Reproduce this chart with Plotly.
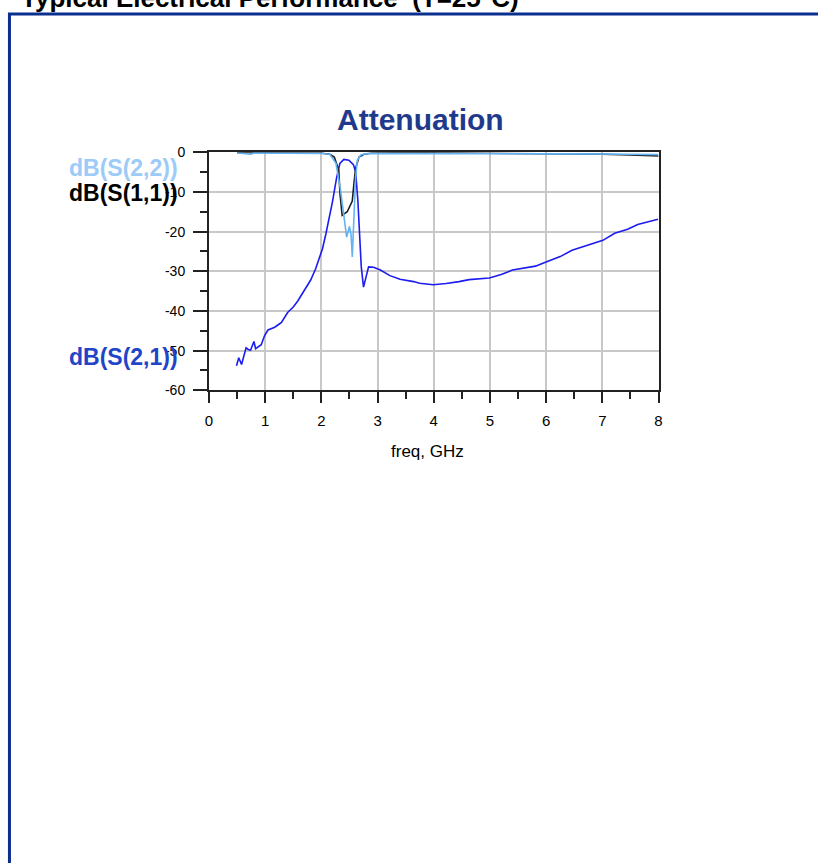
import plotly.graph_objects as go

W, H = 818, 863

# ---- data ----
freq_s21 = [0.49, 0.53, 0.58, 0.61, 0.66, 0.70, 0.74, 0.80, 0.83, 0.93, 0.99, 1.05, 1.17, 1.22, 1.29,
            1.40, 1.50, 1.58, 1.70, 1.81, 1.90, 1.96, 2.02, 2.08, 2.14, 2.20, 2.27, 2.33, 2.40,
            2.49, 2.57, 2.61, 2.65, 2.68, 2.71, 2.75, 2.78, 2.84, 2.93, 3.05, 3.22, 3.40,
            3.64, 3.75, 3.99, 4.22, 4.45, 4.63, 4.99, 5.20, 5.40, 5.60, 5.81, 6.01, 6.25, 6.46,
            6.81, 7.01, 7.22, 7.45, 7.63, 7.99]
s21_db = [-53.8, -51.8, -53.5, -51.6, -49.3, -49.7, -49.9, -47.7, -49.5, -48.5, -46.2, -44.8, -44.1, -43.6, -42.9,
          -40.4, -39.0, -37.5, -34.6, -32.2, -29.3, -26.8, -24.3, -20.6, -16.5, -12.3, -6.5, -2.8, -1.8,
          -2.0, -3.1, -4.9, -12.3, -20.6, -28.9, -34.0, -32.2, -28.9, -29.0, -29.7, -31.1, -32.0,
          -32.6, -33.0, -33.4, -33.1, -32.6, -32.1, -31.7, -30.8, -29.7, -29.2, -28.7, -27.6, -26.3, -24.7,
          -23.1, -22.2, -20.4, -19.4, -18.2, -16.9]

freq_s11 = [0.5, 1.0, 1.5, 2.0, 2.05, 2.15, 2.23, 2.31, 2.33, 2.37, 2.46, 2.55, 2.58, 2.61,
            2.67, 2.76, 2.90, 3.5, 4.5, 5.5, 6.5, 7.0, 7.5, 8.0]
s11_db = [-0.1, -0.1, -0.1, -0.2, -0.3, -0.5, -1.2, -4.5, -10.2, -15.9, -15.0, -12.3, -7.8, -4.0,
          -1.2, -0.5, -0.2, -0.1, -0.2, -0.3, -0.4, -0.5, -0.7, -0.9]

freq_s22 = [0.5, 0.75, 0.8, 1.5, 2.0, 2.15, 2.26, 2.34, 2.40, 2.45, 2.50, 2.53, 2.55, 2.58,
            2.61, 2.64, 2.70, 2.81, 3.5, 4.5, 5.5, 6.5, 7.5, 8.0]
s22_db = [-0.2, -0.5, -0.2, -0.2, -0.3, -0.5, -2.8, -9.4, -16.0, -21.4, -18.7, -21.0, -26.4, -15.2,
          -6.1, -2.0, -0.7, -0.3, -0.3, -0.4, -0.3, -0.4, -0.5, -0.6]

x_ticks = [0, 1, 2, 3, 4, 5, 6, 7, 8]
x_tick_labels = ["0", "1", "2", "3", "4", "5", "6", "7", "8"]
y_ticks = [0, -10, -20, -30, -40, -50, -60]
y_tick_labels = ["0", "-10", "-20", "-30", "-40", "-50", "-60"]

# ---- figure ----
fig = go.Figure()
fig.add_trace(go.Scatter(x=freq_s21, y=s21_db, mode="lines", name="dB(S(2,1))",
                         line=dict(color="#1c1cf0", width=1.6)))
fig.add_trace(go.Scatter(x=freq_s11, y=s11_db, mode="lines", name="dB(S(1,1))",
                         line=dict(color="#1e1e1e", width=1.6)))
fig.add_trace(go.Scatter(x=freq_s22, y=s22_db, mode="lines", name="dB(S(2,2))",
                         line=dict(color="#62b4f4", width=1.6)))

x0, x1 = 207 / W, 661 / W
y0, y1 = 1 - 389.5 / H, 1 - 147 / H

fig.update_layout(
    width=W, height=H, margin=dict(l=0, r=0, t=0, b=0),
    paper_bgcolor="white", plot_bgcolor="white", showlegend=False,
    font=dict(family="Arial, Liberation Sans, sans-serif", color="black"),
    xaxis=dict(domain=[x0, x1], range=[0, 8], tickvals=x_ticks, ticktext=x_tick_labels,
               ticks="outside", ticklen=11, tickwidth=2, tickcolor="#222",
               ticklabelstandoff=5,
               showline=True, linecolor="#222", linewidth=2, mirror=True,
               showgrid=True, gridcolor="#c8c8c8", gridwidth=2, zeroline=False,
               tickfont=dict(size=15),
               minor=dict(dtick=0.5, ticks="outside", ticklen=7, tickwidth=2, tickcolor="#222", showgrid=False)),
    yaxis=dict(domain=[y0, y1], range=[-60, 0], tickvals=y_ticks, ticktext=y_tick_labels,
               ticks="outside", ticklen=14, tickwidth=2, tickcolor="#222",
               ticklabelstandoff=5,
               showline=True, linecolor="#222", linewidth=2, mirror=True,
               showgrid=True, gridcolor="#c8c8c8", gridwidth=2, zeroline=False,
               tickfont=dict(size=14),
               minor=dict(dtick=5, ticks="outside", ticklen=7, tickwidth=2, tickcolor="#222", showgrid=False)),
)

# page frame (dark blue border)
fig.add_shape(type="rect", xref="paper", yref="paper",
              x0=5.5 / W, x1=1.05, y0=-0.05, y1=1 - 6 / H,
              line=dict(color="#0b2f8f", width=3), fillcolor="rgba(0,0,0,0)", layer="above")

annos = [
    dict(text="<b>Typical Electrical Performance  (T=25°C)</b>", x=15 / W, y=1 + 10 / H,
         xanchor="left", yanchor="middle", font=dict(size=26, color="black")),
    dict(text="<b>Attenuation</b>", x=421 / W, y=1 - 114 / H, xanchor="center", yanchor="middle",
         font=dict(size=30, color="#1f3a8c")),
    dict(text="freq, GHz", x=428 / W, y=1 - 452 / H, xanchor="center", yanchor="middle",
         font=dict(size=17, color="black")),
    dict(text="<b>dB(S(2,2))</b>", x=178 / W, y=1 - 163 / H, xanchor="right", yanchor="middle",
         font=dict(size=23, color="#9ccbf8")),
    dict(text="<b>dB(S(1,1))</b>", x=178 / W, y=1 - 189 / H, xanchor="right", yanchor="middle",
         font=dict(size=23, color="black")),
    dict(text="<b>dB(S(2,1))</b>", x=178 / W, y=1 - 356 / H, xanchor="right", yanchor="middle",
         font=dict(size=23, color="#1f45c8")),
]
for a in annos:
    fig.add_annotation(xref="paper", yref="paper", showarrow=False, **a)

fig.write_html("out.html", config={"displayModeBar": False},
               post_script="document.body.style.margin='0px';")
